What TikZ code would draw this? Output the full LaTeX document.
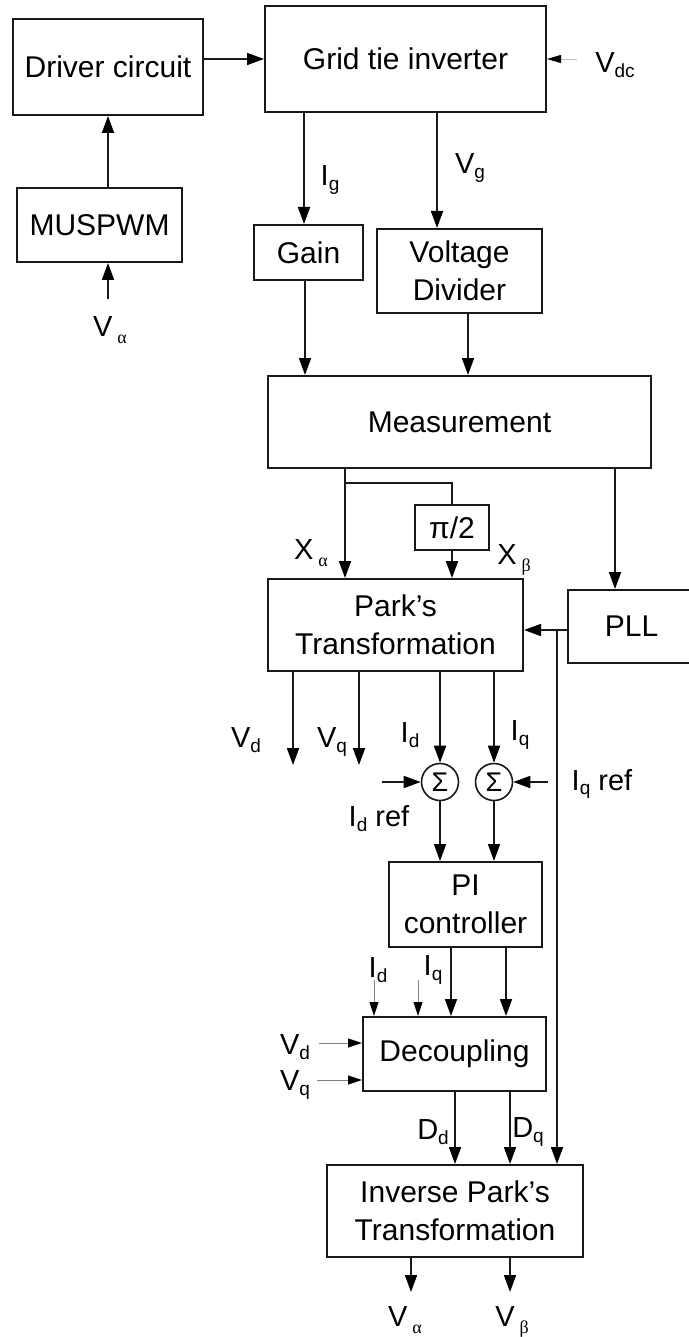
\documentclass[tikz,border=0pt]{standalone}
\usepackage{fontspec}
\setmainfont{Liberation Sans}
\newfontfamily\grk{Liberation Serif}
\usetikzlibrary{arrows.meta}
\newcommand\sbx[1]{\raisebox{-0.17em}{\fontsize{19pt}{19pt}\selectfont #1}}
\newcommand\gsb[1]{\hspace{5pt}\raisebox{-0.22em}{\grk\fontsize{18pt}{18pt}\selectfont #1}}
\begin{document}
\begin{tikzpicture}[x=1pt,y=-1pt,
  box/.style={draw=black!90, line width=2pt, inner sep=0pt, align=center,
    font=\fontsize{30pt}{38pt}\selectfont},
  lbl/.style={inner sep=0pt, font=\fontsize{29pt}{29pt}\selectfont},
  arr/.style={line width=1.8pt, draw=black!90, -{Triangle[length=17pt,width=12pt,color=black]}},
  plain/.style={line width=1.8pt, draw=black!90},
  thinarr/.style={line width=0.9pt, draw=black!50, -{Triangle[length=14pt,width=9pt,color=black]}},
  vdcarr/.style={line width=0.9pt, draw=black!25, -{Triangle[length=14pt,width=8pt,color=black]}},
  sumc/.style={circle, draw=black!90, line width=1.6pt, minimum size=37pt, inner sep=0pt,
    font=\fontsize{27pt}{27pt}\selectfont}
]
\useasboundingbox (0,0) rectangle (688,1337);

% boxes
\node[box, minimum width=190pt, minimum height=96pt] (drv) at (108,67) {Driver circuit};
\node[box, minimum width=281pt, minimum height=106pt] (git) at (405.5,59) {Grid tie inverter};
\node[box, minimum width=165pt, minimum height=74pt] (mus) at (99.5,225) {MUSPWM};
\node[box, minimum width=109pt, minimum height=55pt] (gain) at (308.5,252.5) {Gain};
\node[box, minimum width=165pt, minimum height=84pt] (vdiv) at (459.5,271) {Voltage\\Divider};
\node[box, minimum width=383pt, minimum height=92pt] (meas) at (459.5,422) {Measurement};
\node[box, minimum width=74pt, minimum height=45pt] (pi2) at (452,527.5) {π/2};
\node[box, minimum width=255pt, minimum height=92pt] (park) at (395.5,625) {Park’s\\Transformation};
\node[box, minimum width=127pt, minimum height=73pt] (pll) at (631.5,626.5) {PLL};
\node[box, minimum width=153pt, minimum height=85pt] (pi) at (465.5,904.5) {PI\\controller};
\node[box, minimum width=183pt, minimum height=74pt] (dec) at (454.5,1054) {Decoupling};
\node[box, minimum width=256pt, minimum height=92pt] (ipark) at (455,1211) {Inverse Park’s\\Transformation};
\node[sumc] (s1) at (440,782) {Σ};
\node[sumc] (s2) at (494,782) {Σ};

% coordinates
\coordinate (vdcin) at (577,59);
\coordinate (vain) at (108,299);
\coordinate (xIg) at (304,0);
\coordinate (xVg) at (437,0);
\coordinate (xG) at (305,0);
\coordinate (xVD) at (468,0);
\coordinate (xXa) at (345,0);
\coordinate (brk) at (452,483);
\coordinate (xPLL) at (615,0);
\coordinate (plln) at (557,630);
\coordinate (vdout) at (293,765);
\coordinate (vqout) at (359,765);
\coordinate (idref) at (382,782);
\coordinate (iqref) at (548,782);
\coordinate (xPId) at (451,0);
\coordinate (xPIq) at (506,0);
\coordinate (idin) at (374,980);
\coordinate (iqin) at (418,980);
\coordinate (vdin) at (319,1043);
\coordinate (vqin) at (317,1080);
\coordinate (xDd) at (455,0);
\coordinate (xDq) at (510,0);
\coordinate (vaout) at (411,1292);
\coordinate (vbout) at (510,1292);

% connectors
\draw[arr] (drv.east |- git.west) -- (git.west);
\draw[vdcarr] (vdcin) -- (git.east);
\draw[arr] (vain) -- (mus.south -| vain);
\draw[arr] (mus.north -| vain) -- (drv.south -| vain);
\draw[arr] (git.south -| xIg) -- (gain.north -| xIg);
\draw[arr] (git.south -| xVg) -- (vdiv.north -| xVg);
\draw[arr] (gain.south -| xG) -- (meas.north -| xG);
\draw[arr] (vdiv.south -| xVD) -- (meas.north -| xVD);
\draw[arr] (meas.south -| xXa) -- (park.north -| xXa);
\draw[plain] (brk -| xXa) -- (brk) -- (pi2.north);
\draw[arr] (pi2.south) -- (park.north -| pi2.south);
\draw[arr] (meas.south -| xPLL) -- (pll.north -| xPLL);
\draw[arr] (pll.west |- plln) -- (park.east |- plln);
\draw[arr] (plln) -- (ipark.north -| plln);
\draw[arr] (park.south -| vdout) -- (vdout);
\draw[arr] (park.south -| vqout) -- (vqout);
\draw[arr] (park.south -| s1) -- (s1.north);
\draw[arr] (park.south -| s2) -- (s2.north);
\draw[arr] (idref) -- (s1.west);
\draw[arr] (iqref) -- (s2.east);
\draw[arr] (s1.south) -- (pi.north -| s1.south);
\draw[arr] (s2.south) -- (pi.north -| s2.south);
\draw[arr] (pi.south -| xPId) -- (dec.north -| xPId);
\draw[arr] (pi.south -| xPIq) -- (dec.north -| xPIq);
\draw[thinarr] (idin) -- (dec.north -| idin);
\draw[thinarr] (iqin) -- (dec.north -| iqin);
\draw[thinarr] (vdin) -- (dec.west |- vdin);
\draw[thinarr] (vqin) -- (dec.west |- vqin);
\draw[arr] (dec.south -| xDd) -- (ipark.north -| xDd);
\draw[arr] (dec.south -| xDq) -- (ipark.north -| xDq);
\draw[arr] (ipark.south -| vaout) -- (vaout);
\draw[arr] (ipark.south -| vbout) -- (vbout);

% labels
\node[lbl] (lvdc) at (615,65) {V\sbx{dc}};
\node[lbl] (lig) at (330,180) {I\sbx{g}};
\node[lbl] (lvg) at (470,168) {V\sbx{g}};
\node[lbl] (lva) at (110,330) {V\gsb{α}};
\node[lbl] (lxa) at (311,553) {X\gsb{α}};
\node[lbl] (lxb) at (514,560) {X\gsb{β}};
\node[lbl] (lvd) at (246,740) {V\sbx{d}};
\node[lbl] (lvq) at (332,742) {V\sbx{q}};
\node[lbl] (lid) at (410,735) {I\sbx{d}};
\node[lbl] (liq) at (520,735) {I\sbx{q}};
\node[lbl] (liqr) at (602,784) {I\sbx{q} ref};
\node[lbl] (lidr) at (379,819) {I\sbx{d} ref};
\node[lbl] (lid2) at (378,970) {I\sbx{d}};
\node[lbl] (liq2) at (433,970) {I\sbx{q}};
\node[lbl] (lvd2) at (295,1047) {V\sbx{d}};
\node[lbl] (lvq2) at (295,1085) {V\sbx{q}};
\node[lbl] (ldd) at (433,1132) {D\sbx{d}};
\node[lbl] (ldq) at (528,1132) {D\sbx{q}};
\node[lbl] (lva2) at (405,1320) {V\gsb{α}};
\node[lbl] (lvb) at (512,1322) {V\gsb{β}};
\end{tikzpicture}
\end{document}
